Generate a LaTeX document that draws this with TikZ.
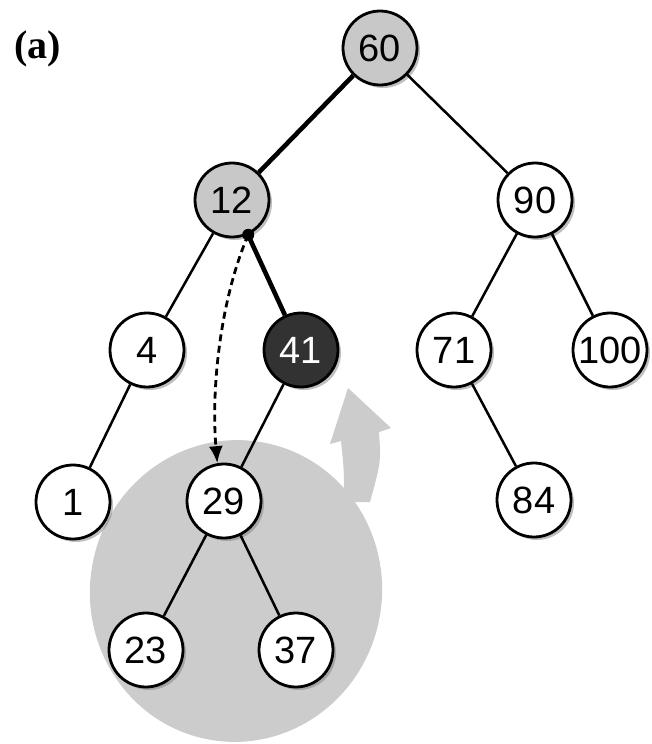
\documentclass[tikz,border=0pt]{standalone}
\usepackage{fontspec}
\setmainfont{Liberation Sans}
\newfontfamily\serifb{Liberation Serif}
\usetikzlibrary{shadows,arrows.meta}
\definecolor{blobgray}{RGB}{204,204,204}
\definecolor{nodegray}{RGB}{200,200,200}
\definecolor{darknode}{RGB}{50,50,50}
\begin{document}
\begin{tikzpicture}[x=1pt,y=-1pt,
  tn/.style={circle,draw=black,line width=2.8pt,fill=white,minimum size=74pt,inner sep=0pt,
    font=\fontsize{38}{40}\selectfont,
    drop shadow={shadow xshift=3pt,shadow yshift=-3pt,fill=black!50}},
  graynode/.style={tn,fill=nodegray},
  darkn/.style={tn,fill=darknode,text=white},
  thinedge/.style={line width=2.5pt},
  thickedge/.style={line width=4.6pt},
  dashedarrow/.style={line width=2.8pt,dash pattern=on 7pt off 4.5pt,-{Latex[length=17pt,width=14pt]}}]
\useasboundingbox (0,0) rectangle (651,744);
% gray blob and rotation arrow
\fill[blobgray] (236,591) ellipse [x radius=146pt, y radius=151pt, rotate=-9];
\fill[blobgray] (348,388) -- (391,428) -- (379,432) .. controls (381,462) .. (370,502)
  -- (344,502) .. controls (344,470) .. (341,441) -- (330,444) -- cycle;
% label
\node[font=\serifb\bfseries\fontsize{40}{42}\selectfont] (lbl) at (38,49) {(a)};
% nodes
\node[graynode] (n60) at (380,48) {60};
\node[graynode] (n12) at (232,200) {12};
\node[tn] (n90) at (535,200) {90};
\node[tn] (n4) at (147,350) {4};
\node[darkn] (n41) at (301,350) {41};
\node[tn] (n71) at (454,350) {71};
\node[tn] (n100) at (610,350) {100};
\node[tn] (n1) at (73,502) {1};
\node[tn] (n29) at (224,501) {29};
\node[tn] (n84) at (534,500) {84};
\node[tn] (n23) at (146,650) {23};
\node[tn] (n37) at (296,650) {37};
% edges
\draw[thickedge] (n60) -- (n12);
\draw[thickedge] (n12) -- (n41);
\draw[thinedge] (n60) -- (n90);
\draw[thinedge] (n12) -- (n4);
\draw[thinedge] (n4) -- (n1);
\draw[thinedge] (n41) -- (n29);
\draw[thinedge] (n90) -- (n71);
\draw[thinedge] (n90) -- (n100);
\draw[thinedge] (n71) -- (n84);
\draw[thinedge] (n29) -- (n23);
\draw[thinedge] (n29) -- (n37);
% dashed arrow
\coordinate (d) at (n12.-65);
\fill (d) circle (6pt);
\draw[dashedarrow] (d) .. controls (220,300) and (211,390) .. (n29.100);
\end{tikzpicture}
\end{document}
